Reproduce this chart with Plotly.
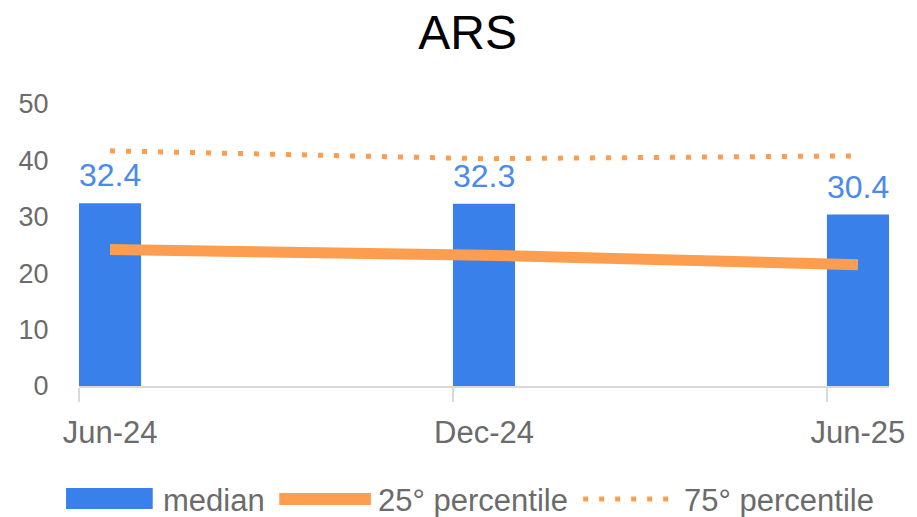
import plotly.graph_objects as go

# ---- data ----
categories = ["Jun-24", "Dec-24", "Jun-25"]
median = [32.4, 32.3, 30.4]
p25 = [24.2, 23.2, 21.5]
p75 = [41.7, 40.3, 40.8]
y_ticks = [0, 10, 20, 30, 40, 50]
legend_labels = ["median", "25° percentile", "75° percentile"]

BLUE = "#3a80ea"
ORANGE = "#fd9d4f"
LABEL_BLUE = "#4a89ee"
GREY = "#6b6b6b"
AXIS = "#d9d9d9"
FONT = "Liberation Sans, Arial, sans-serif"

W_PX, H_PX = 917, 517
L, R, T, B = 79, 25, 104, 131
PW = W_PX - L - R
PH = H_PX - T - B


def px_x(p):
    return (p - L) / PW


def px_y(p):
    return (H_PX - B - p) / PH


x = list(range(len(categories)))
BW = 0.166

fig = go.Figure()
fig.add_trace(go.Bar(x=x, y=median, width=BW, marker=dict(color=BLUE, line=dict(width=0)),
                     name=legend_labels[0], showlegend=False))
fig.add_trace(go.Scatter(x=x, y=p25, mode="lines", line=dict(color=ORANGE, width=11),
                         name=legend_labels[1], showlegend=False))
fig.add_trace(go.Scatter(x=x, y=p75, mode="lines", line=dict(color=ORANGE, width=5, dash="5px,11px"),
                         name=legend_labels[2], showlegend=False))

annotations = []
for xi, v in zip(x, median):
    annotations.append(dict(x=xi, y=v, xref="x", yref="y", text=f"{v}", showarrow=False,
                            yanchor="bottom", yshift=8,
                            font=dict(size=32, color=LABEL_BLUE, family=FONT)))

# manual legend
shapes = []
leg_y = 499
shapes.append(dict(type="rect", xref="paper", yref="paper", x0=px_x(66), x1=px_x(153),
                   y0=px_y(509), y1=px_y(488), fillcolor=BLUE, line=dict(width=0)))
shapes.append(dict(type="line", xref="paper", yref="paper", x0=px_x(280), x1=px_x(372),
                   y0=px_y(leg_y), y1=px_y(leg_y), line=dict(color=ORANGE, width=12)))
shapes.append(dict(type="line", xref="paper", yref="paper", x0=px_x(585), x1=px_x(675),
                   y0=px_y(leg_y), y1=px_y(leg_y), line=dict(color=ORANGE, width=5, dash="5px,11px")))
for lx, txt in zip([161, 377, 684], legend_labels):
    annotations.append(dict(x=px_x(lx), y=px_y(500), xref="paper", yref="paper", text=txt,
                            showarrow=False, xanchor="left", yanchor="middle",
                            font=dict(size=31, color=GREY, family=FONT)))

fig.update_layout(
    width=W_PX, height=H_PX,
    margin=dict(l=L, r=R, t=T, b=B),
    paper_bgcolor="white", plot_bgcolor="white",
    showlegend=False,
    title=dict(text="ARS", x=0.51, xref="container", xanchor="center",
               y=1 - 32 / H_PX, yref="container", yanchor="middle",
               font=dict(size=48, color="black", family=FONT)),
    xaxis=dict(range=[-BW / 2, len(x) - 1 + BW / 2], tickvals=x, ticktext=categories,
               ticks="outside", ticklen=18, tickcolor="rgba(0,0,0,0)",
               minor=dict(tickvals=[xi - BW / 2 for xi in x], ticks="outside", ticklen=14,
                          tickcolor=AXIS, tickwidth=2, showgrid=False),
               showline=True, linecolor=AXIS, linewidth=2, showgrid=False, zeroline=False,
               tickfont=dict(size=31, color=GREY, family=FONT)),
    yaxis=dict(range=[0, 50], tickvals=y_ticks, ticks="outside", ticklen=24,
               tickcolor="rgba(0,0,0,0)", showline=False, showgrid=False, zeroline=False,
               tickfont=dict(size=27, color=GREY, family=FONT)),
    annotations=annotations,
    shapes=shapes,
)

fig.write_html("out.html", config={"displayModeBar": False},
               post_script="document.body.style.margin='0';document.body.style.overflow='hidden';")
